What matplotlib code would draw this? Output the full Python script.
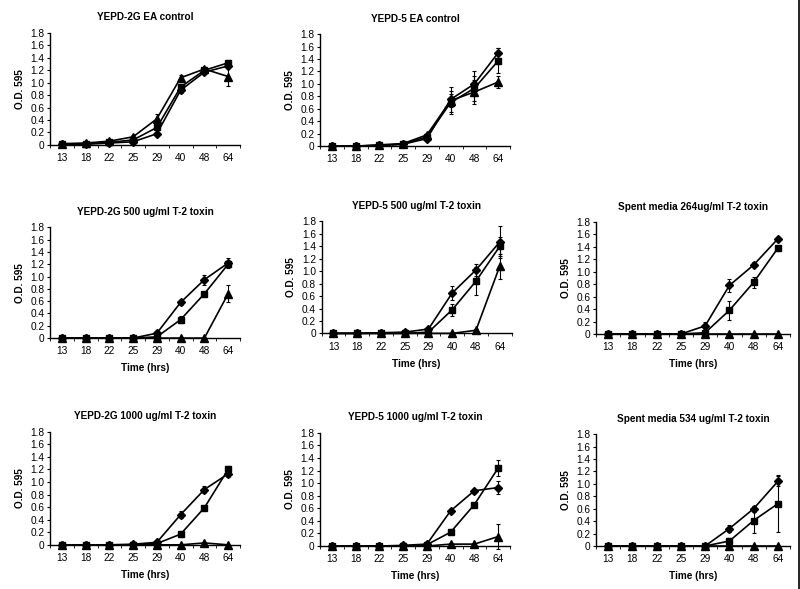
import numpy as np
import matplotlib
matplotlib.use("Agg")
import matplotlib.pyplot as plt
from matplotlib.lines import Line2D

plt.rcParams['font.family'] = ['Liberation Sans', 'DejaVu Sans']

hours = ['13', '18', '22', '25', '29', '40', '48', '64']

# each panel: title, diamond, square, triangle values + error bars
titles = [
    'YEPD-2G EA control',
    'YEPD-5 EA control',
    'YEPD-2G 500 ug/ml T-2 toxin',
    'YEPD-5 500 ug/ml T-2 toxin',
    'Spent media 264ug/ml T-2 toxin',
    'YEPD-2G 1000 ug/ml T-2 toxin',
    'YEPD-5 1000 ug/ml T-2 toxin',
    'Spent media 534 ug/ml T-2 toxin',
]

diamond = [
    [0.01, 0.01, 0.03, 0.05, 0.18, 0.88, 1.17, 1.27],
    [0.0, 0.0, 0.01, 0.03, 0.12, 0.75, 1.00, 1.50],
    [0.0, 0.0, 0.0, 0.0, 0.08, 0.58, 0.95, 1.22],
    [0.0, 0.0, 0.01, 0.02, 0.07, 0.65, 1.02, 1.47],
    [0.0, 0.0, 0.0, 0.0, 0.13, 0.78, 1.11, 1.53],
    [0.0, 0.0, 0.0, 0.01, 0.04, 0.48, 0.88, 1.13],
    [0.0, 0.0, 0.0, 0.01, 0.03, 0.56, 0.88, 0.93],
    [0.0, 0.0, 0.0, 0.0, 0.0, 0.28, 0.60, 1.04],
]
diamond_err = [
    [0.01, 0.01, 0.01, 0.02, 0.03, 0.04, 0.03, 0.03],
    [0.01, 0.01, 0.01, 0.01, 0.03, 0.20, 0.20, 0.08],
    [0.01, 0.01, 0.01, 0.01, 0.02, 0.04, 0.08, 0.08],
    [0.01, 0.01, 0.01, 0.01, 0.02, 0.12, 0.10, 0.25],
    [0.0, 0.0, 0.0, 0.0, 0.06, 0.10, 0.04, 0.03],
    [0.0, 0.0, 0.0, 0.0, 0.02, 0.06, 0.05, 0.05],
    [0.0, 0.0, 0.0, 0.0, 0.02, 0.03, 0.03, 0.10],
    [0.0, 0.0, 0.0, 0.0, 0.0, 0.06, 0.05, 0.08],
]
square = [
    [0.01, 0.02, 0.04, 0.08, 0.28, 0.93, 1.20, 1.32],
    [0.0, 0.0, 0.01, 0.03, 0.15, 0.70, 0.93, 1.37],
    [0.0, 0.0, 0.0, 0.0, 0.02, 0.30, 0.72, 1.20],
    [0.0, 0.0, 0.0, 0.0, 0.02, 0.38, 0.84, 1.40],
    [0.0, 0.0, 0.0, 0.0, 0.02, 0.38, 0.83, 1.38],
    [0.0, 0.0, 0.0, 0.0, 0.02, 0.17, 0.59, 1.20],
    [0.0, 0.0, 0.0, 0.0, 0.02, 0.22, 0.66, 1.24],
    [0.0, 0.0, 0.0, 0.0, 0.0, 0.08, 0.41, 0.68],
]
square_err = [
    [0.01, 0.01, 0.01, 0.02, 0.04, 0.04, 0.03, 0.04],
    [0.01, 0.01, 0.01, 0.01, 0.03, 0.18, 0.20, 0.20],
    [0.0, 0.0, 0.0, 0.0, 0.01, 0.06, 0.03, 0.04],
    [0.0, 0.0, 0.0, 0.0, 0.01, 0.10, 0.22, 0.15],
    [0.0, 0.0, 0.0, 0.0, 0.01, 0.15, 0.09, 0.04],
    [0.0, 0.0, 0.0, 0.0, 0.01, 0.04, 0.02, 0.05],
    [0.0, 0.0, 0.0, 0.0, 0.01, 0.05, 0.03, 0.13],
    [0.0, 0.0, 0.0, 0.0, 0.0, 0.05, 0.20, 0.46],
]
triangle = [
    [0.02, 0.03, 0.06, 0.13, 0.42, 1.08, 1.22, 1.10],
    [0.0, 0.0, 0.02, 0.04, 0.18, 0.73, 0.87, 1.03],
    [0.0, 0.0, 0.0, 0.0, 0.0, 0.0, 0.0, 0.72],
    [0.0, 0.0, 0.0, 0.0, 0.0, 0.0, 0.05, 1.08],
    [0.0, 0.0, 0.0, 0.0, 0.0, 0.0, 0.0, 0.0],
    [0.0, 0.0, 0.0, 0.0, 0.0, 0.0, 0.03, 0.0],
    [0.0, 0.0, 0.0, 0.0, 0.0, 0.03, 0.03, 0.15],
    [0.0, 0.0, 0.0, 0.0, 0.0, 0.0, 0.0, 0.0],
]
triangle_err = [
    [0.01, 0.01, 0.02, 0.03, 0.08, 0.04, 0.03, 0.15],
    [0.01, 0.01, 0.01, 0.01, 0.03, 0.10, 0.20, 0.10],
    [0.0, 0.0, 0.0, 0.0, 0.0, 0.0, 0.0, 0.14],
    [0.0, 0.0, 0.0, 0.0, 0.0, 0.0, 0.02, 0.20],
    [0.0, 0.0, 0.0, 0.0, 0.0, 0.0, 0.0, 0.0],
    [0.0, 0.0, 0.0, 0.0, 0.0, 0.0, 0.02, 0.0],
    [0.0, 0.0, 0.0, 0.0, 0.0, 0.01, 0.01, 0.20],
    [0.0, 0.0, 0.0, 0.0, 0.0, 0.0, 0.0, 0.0],
]

# panel rectangles (left, bottom, width, height) in figure fraction
rects = [
    [0.0625, 0.754, 0.2375, 0.190],
    [0.400, 0.752, 0.2375, 0.190],
    [0.0625, 0.426, 0.2375, 0.188],
    [0.402, 0.434, 0.2375, 0.190],
    [0.745, 0.433, 0.2425, 0.190],
    [0.0625, 0.075, 0.2375, 0.192],
    [0.400, 0.073, 0.2375, 0.192],
    [0.745, 0.073, 0.2425, 0.190],
]
has_xlabel = [False, False, True, True, True, True, True, True]

fig = plt.figure(figsize=(8, 5.89), dpi=100)
x = np.arange(len(hours))

for i in range(8):
    ax = fig.add_axes(rects[i])
    for vals, errs, mk, ms in [(triangle[i], triangle_err[i], '^', 5.5),
                               (square[i], square_err[i], 's', 4.5),
                               (diamond[i], diamond_err[i], 'D', 4.5)]:
        ax.errorbar(x, vals, yerr=errs, color='black', marker=mk, ms=ms,
                    lw=1.2, elinewidth=0.8, capsize=1.5, capthick=0.8,
                    clip_on=False)
    ax.set_xlim(-0.5, len(hours) - 0.5)
    ax.set_ylim(0, 1.8)
    ax.set_yticks(np.arange(0, 1.81, 0.2))
    ax.set_yticklabels(['0'] + ['%.1f' % v for v in np.arange(0.2, 1.81, 0.2)])
    ax.set_xticks(x)
    ax.set_xticklabels(hours)
    ax.set_xticks(np.arange(-0.5, len(hours), 1.0), minor=True)
    ax.tick_params(axis='x', which='major', length=0, pad=6, labelsize=7.3)
    ax.tick_params(axis='x', which='minor', length=2, width=0.6, direction='out')
    ax.tick_params(axis='y', length=2.5, width=0.8, pad=1.5, labelsize=7.3)
    for s in ['top', 'right']:
        ax.spines[s].set_visible(False)
    for s in ['left', 'bottom']:
        ax.spines[s].set_linewidth(1.0)
    ax.set_title(titles[i], fontsize=7.2, fontweight='bold', pad=9)
    ax.set_ylabel('O.D. 595', fontsize=7.2, fontweight='bold', labelpad=4)
    if has_xlabel[i]:
        ax.set_xlabel('Time (hrs)', fontsize=7.2, fontweight='bold', labelpad=5)

# scan edge line on the right
fig.add_artist(Line2D([0.9985, 0.9985], [0, 1], color='black', lw=1.2,
                      transform=fig.transFigure))

fig.savefig('out.png', dpi=100, facecolor='white')
